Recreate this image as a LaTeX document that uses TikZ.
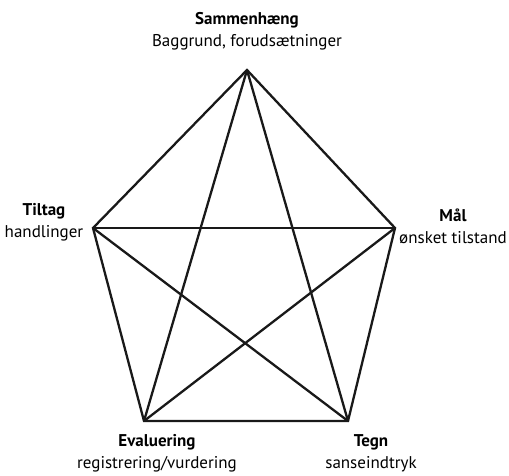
\documentclass[tikz,border=0pt]{standalone}
\usepackage{fontspec}
\setmainfont{PT Sans}
\begin{document}
\begin{tikzpicture}[x=1pt,y=-1pt,
  edge/.style={line width=2.3pt,line join=miter,draw=black!90},
  lbl/.style={align=center,font=\fontsize{17}{22}\selectfont,inner sep=0pt}]
\useasboundingbox (0,0) rectangle (509,475);
\coordinate (T) at (247,70);
\coordinate (L) at (93,228);
\coordinate (R) at (395,228);
\coordinate (BL) at (144,421);
\coordinate (BR) at (348,421);
\draw[edge] (T) -- (R) -- (BR) -- (BL) -- (L) -- cycle;
\draw[edge] (T) -- (BL);
\draw[edge] (T) -- (BR);
\draw[edge] (L) -- (R);
\draw[edge] (L) -- (BR);
\draw[edge] (R) -- (BL);
\node[lbl] (top) at (247,31) {\textbf{Sammenhæng}\\Baggrund, forudsætninger};
\node[lbl] (left) at (44,222) {\textbf{Tiltag}\\handlinger};
\node[lbl] (right) at (453,226) {\textbf{Mål}\\ønsket tilstand};
\node[lbl] (bl) at (157,453) {\textbf{Evaluering}\\registrering/vurdering};
\node[lbl] (br) at (371,453) {\textbf{Tegn}\\sanseindtryk};
\end{tikzpicture}
\end{document}
